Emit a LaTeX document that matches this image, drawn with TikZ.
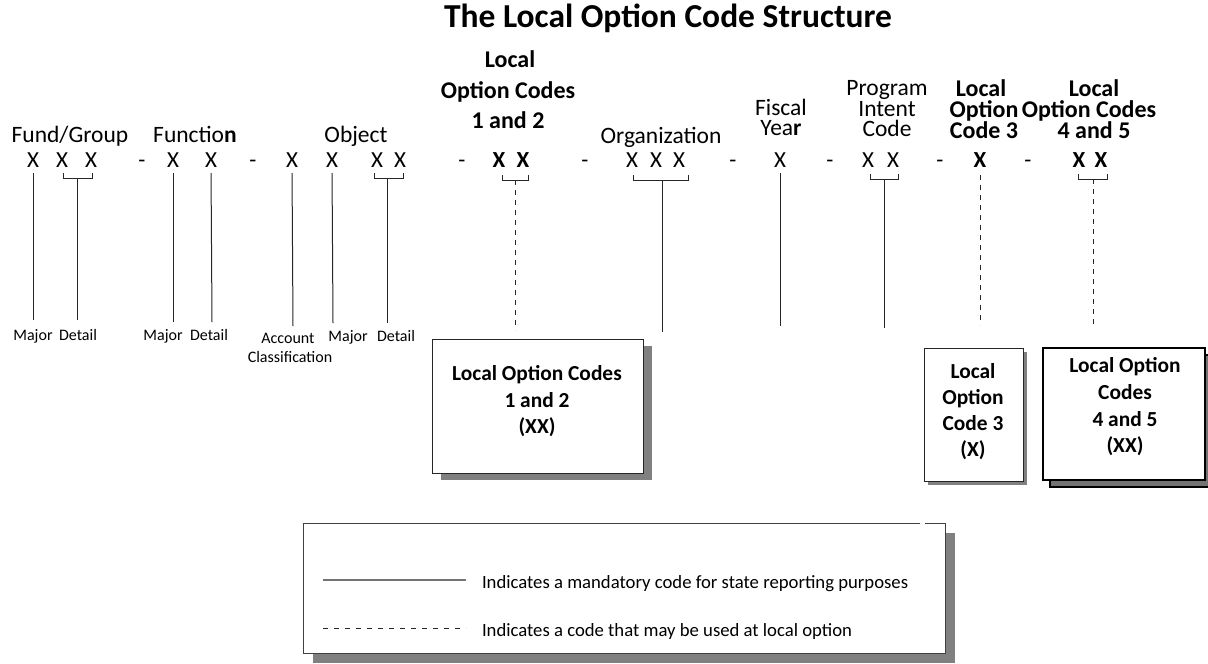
\documentclass[tikz,border=0pt]{standalone}
\usepackage{fontspec}
\setmainfont{Carlito}
\usetikzlibrary{shadows}
\begin{document}
\begin{tikzpicture}[x=1pt,y=-1pt,
  every node/.style={inner sep=0pt, outer sep=0pt},
  lbl/.style={font=\fontsize{23.5}{23.5}\selectfont, anchor=base},
  xr/.style={font=\fontsize{23}{23}\selectfont, anchor=base},
  xb/.style={font=\fontsize{23}{23}\selectfont\bfseries, anchor=base},
  hd/.style={font=\fontsize{24}{24}\selectfont\bfseries, anchor=base},
  sm/.style={font=\fontsize{16}{16}\selectfont, anchor=base},
  bt/.style={font=\fontsize{21.4}{21.4}\selectfont\bfseries, anchor=base},
  lg/.style={font=\fontsize{18.7}{18.7}\selectfont, anchor=base west},
  mand/.style={line width=1pt, black!85},
  opt/.style={line width=1pt, black!85, dash pattern=on 5pt off 5pt},
  brk/.style={line width=1pt, black!85},
  codebox/.style={draw=black!85, line width=1pt, fill=white, anchor=north west},
]
\useasboundingbox (0,0) rectangle (1208,664);

% title
\node[font=\fontsize{33.5}{33.5}\selectfont\bfseries, anchor=base] (title) at (668,27) {The Local Option Code Structure};

% headings
\node[lbl] (fund) at (70,142) {Fund/Group};
\node[lbl] (func) at (195,142) {Functio\textbf{n}};
\node[lbl] (obj) at (356,142) {Object};
\node[lbl] (org) at (661,143) {Organization};
\node[lbl] (fis1) at (781,115) {Fiscal};
\node[lbl] (fis2) at (781,135) {Yea\textbf{r}};
\node[lbl] (pic1) at (887,95) {Program};
\node[lbl] (pic2) at (887,116) {Intent};
\node[lbl] (pic3) at (887,136) {Code};
\node[hd] (h12a) at (510,67) {Local};
\node[hd] (h12b) at (508,98) {Option Codes};
\node[hd] (h12c) at (508,128) {1 and 2};
\node[hd] (h3a) at (981,96) {Local};
\node[hd] (h3b) at (984,117) {Option};
\node[hd] (h3c) at (984,138) {Code 3};
\node[hd] (h45a) at (1094,96) {Local};
\node[hd] (h45b) at (1089,117) {Option Codes};
\node[hd] (h45c) at (1094,138) {4 and 5};

% code row
\node[xr] (xf1) at (33,167) {X};
\node[xr] (xf2) at (62,167) {X};
\node[xr] (xf3) at (91,167) {X};
\node[xr] (d1) at (142,167) {-};
\node[xr] (xn1) at (173,167) {X};
\node[xr] (xn2) at (211,167) {X};
\node[xr] (d2) at (253,167) {-};
\node[xr] (xo1) at (292,167) {X};
\node[xr] (xo2) at (332,167) {X};
\node[xr] (xo3) at (377,167) {X};
\node[xr] (xo4) at (400,167) {X};
\node[xr] (d3) at (462,167) {-};
\node[xb] (xl1) at (499,167) {X};
\node[xb] (xl2) at (523,167) {X};
\node[xr] (d4) at (585,167) {-};
\node[xr] (xg1) at (632,167) {X};
\node[xr] (xg2) at (656,167) {X};
\node[xr] (xg3) at (679,167) {X};
\node[xr] (d5) at (733,167) {-};
\node[xr] (xy) at (780,167) {X};
\node[xr] (d6) at (830,167) {-};
\node[xr] (xp1) at (868,167) {X};
\node[xr] (xp2) at (893,167) {X};
\node[xr] (d7) at (940,167) {-};
\node[xb] (xl3) at (980,167) {X};
\node[xr] (d8) at (1028,167) {-};
\node[xb] (xl4) at (1079,167) {X};
\node[xb] (xl5) at (1101,167) {X};

% brackets
\draw[brk] (63,173) -- (63,178) -- (92,178) -- (92,173);
\coordinate (bf) at (77,178);
\draw[brk] (374,173) -- (374,178) -- (403,178) -- (403,173);
\coordinate (bo) at (387,178);
\draw[brk] (502,175) -- (502,180) -- (528,180) -- (528,175);
\coordinate (bl12) at (515,180);
\draw[brk] (633,175) -- (633,180) -- (688,180) -- (688,175);
\coordinate (bg) at (662,180);
\draw[brk] (870,174) -- (870,179) -- (898,179) -- (898,174);
\coordinate (bp) at (884,179);
\draw[brk] (1078,174) -- (1078,179) -- (1107,179) -- (1107,174);
\coordinate (bl45) at (1093,179);

% line ends
\coordinate (ef1) at (33,320);
\coordinate (ef2) at (77,320);
\coordinate (en1) at (173,322);
\coordinate (en2) at (212,322);
\coordinate (eo1) at (293,326);
\coordinate (eo2) at (333,323);
\coordinate (eo3) at (387,323);
\coordinate (el12) at (515,330);
\coordinate (eg) at (662,332);
\coordinate (ey) at (780,326);
\coordinate (ep) at (884,328);
\coordinate (el3) at (980,325);
\coordinate (el45) at (1093,325);

% mandatory connectors
\draw[mand, shorten <=6pt] (xf1.south) -- (ef1);
\draw[mand] (bf) -- (ef2);
\draw[mand, shorten <=6pt] (xn1.south) -- (en1);
\draw[mand, shorten <=6pt] (xn2.south) -- (en2);
\draw[mand, shorten <=6pt] (xo1.south) -- (eo1);
\draw[mand, shorten <=6pt] (xo2.south) -- (eo2);
\draw[mand] (bo) -- (eo3);
\draw[mand] (bg) -- (eg);
\draw[mand, shorten <=6pt] (xy.south) -- (ey);
\draw[mand] (bp) -- (ep);
% optional connectors
\draw[opt] (bl12) -- (el12);
\draw[opt, shorten <=8pt] (xl3.south) -- (el3);
\draw[opt] (bl45) -- (el45);

% small labels
\node[sm] (mj1) at (33,340) {Major};
\node[sm] (dt1) at (78,340) {Detail};
\node[sm] (mj2) at (163,340) {Major};
\node[sm] (dt2) at (209,340) {Detail};
\node[sm] (acc1) at (288,343) {Account};
\node[sm] (acc2) at (290,362) {Classification};
\node[sm] (mj3) at (348,341) {Major};
\node[sm] (dt3) at (396,341) {Detail};

% boxes
\node[codebox, minimum width=211pt, minimum height=134pt,
  drop shadow={shadow xshift=9pt, shadow yshift=-7pt, fill=black!50, opacity=1}] (b12) at (432,339) {};
\node[bt] (b12a) at (537,380) {Local Option Codes};
\node[bt] (b12b) at (537,407) {1 and 2};
\node[bt] (b12c) at (537,433) {(XX)};

\node[codebox, minimum width=99pt, minimum height=133pt,
  drop shadow={shadow xshift=4pt, shadow yshift=-4pt, fill=black!50, opacity=1}] (b3) at (924,348) {};
\node[bt] (b3a) at (973,378) {Local};
\node[bt] (b3b) at (973,404) {Option};
\node[bt] (b3c) at (973,430) {Code 3};
\node[bt] (b3d) at (973,456) {(X)};

\node[codebox, draw=black, line width=2pt, minimum width=162pt, minimum height=132pt,
  drop shadow={shadow xshift=7pt, shadow yshift=-7pt, fill=black!55, draw=black, line width=1.5pt, opacity=1}] (b45) at (1043,348) {};
\node[bt] (b45a) at (1125,372) {Local Option};
\node[bt] (b45b) at (1125,399) {Codes};
\node[bt] (b45c) at (1125,426) {4 and 5};
\node[bt] (b45d) at (1125,452) {(XX)};

% legend
\node[codebox, draw=black!75, minimum width=642pt, minimum height=130pt,
  drop shadow={shadow xshift=10pt, shadow yshift=-10pt, fill=black!50, opacity=1}] (leg) at (303,523) {};
\draw[white, line width=2pt] (920,523) -- (925,523);
\coordinate (ls1) at (323,580);
\coordinate (le1) at (466,580);
\draw[line width=1.2pt, black!55] (ls1) -- (le1);
\node[lg] (lt1) at (482,588) {Indicates a mandatory code for state reporting purposes};
\coordinate (ls2) at (323,628);
\coordinate (le2) at (466,628);
\draw[line width=1pt, black!85, dash pattern=on 5pt off 6pt] (ls2) -- (le2);
\node[lg] (lt2) at (482,636) {Indicates a code that may be used at local option};
\end{tikzpicture}
\end{document}
